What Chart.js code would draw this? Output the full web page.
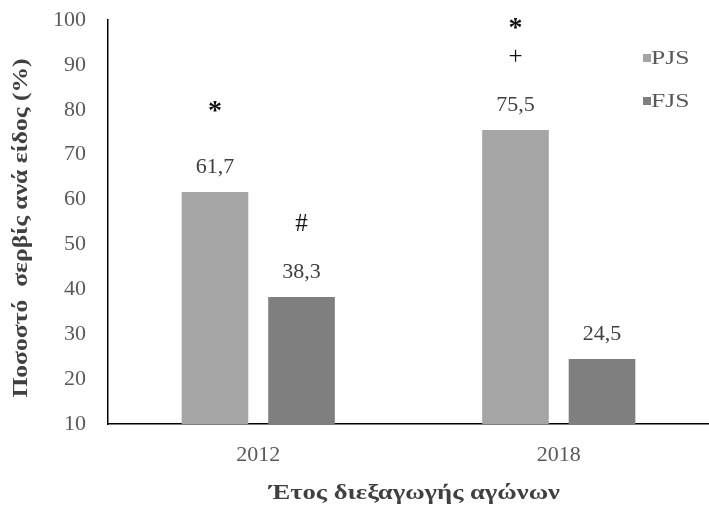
<!DOCTYPE html>
<html>
<head>
<meta charset="utf-8">
<script src="https://cdn.jsdelivr.net/npm/chart.js@4/dist/chart.umd.min.js"></script>
<style>
  html, body { margin: 0; padding: 0; background: #fff; }
  #wrap { width: 709px; height: 516px; }
</style>
</head>
<body>
<div id="wrap"><canvas id="myChart"></canvas></div>
<script>
const years = ['2012', '2018'];
const pjsValues = [61.7, 75.5];
const fjsValues = [38.3, 24.5];
const yTicks = [10, 20, 30, 40, 50, 60, 70, 80, 90, 100];
// significance marks above each bar, bottom-up
const pjsMarks = [['*'], ['+', '*']];
const fjsMarks = [['#'], []];
const xTitle = 'Έτος διεξαγωγής αγώνων';
const yTitle = 'Ποσοστό  σερβίς ανά είδος (%)';

const SERIF = '"Liberation Serif", "Times New Roman", serif';

// draw text stretched horizontally around (x, y)
function wideText(ctx, text, x, y, sx) {
    ctx.save();
    ctx.translate(x, y);
    ctx.scale(sx, 1);
    ctx.fillText(text, 0, 0);
    ctx.restore();
}

// value labels, significance marks, axis titles and the small legend
const annotate = {
    id: 'annotate',
    afterDatasetsDraw(chart) {
        const ctx = chart.ctx;
        const area = chart.chartArea;
        ctx.save();
        ctx.textAlign = 'center';
        ctx.textBaseline = 'middle';
        chart.data.datasets.forEach((ds, di) => {
            const meta = chart.getDatasetMeta(di);
            meta.data.forEach((bar, i) => {
                const v = ds.data[i];
                ctx.font = '22px ' + SERIF;
                ctx.fillStyle = '#404040';
                ctx.fillText(v.toFixed(1).replace('.', ','), bar.x, bar.y - 25);
                ds.marks[i].forEach((m, k) => {
                    const y = bar.y - 74 - k * 21;
                    ctx.fillStyle = '#111';
                    if (m === '*') {
                        ctx.font = 'bold 28px ' + SERIF;
                        ctx.fillText(m, bar.x, y - 14 + 8);
                    } else {
                        ctx.font = '25px ' + SERIF;
                        ctx.fillText(m, bar.x, y + 1);
                    }
                });
            });
        });

        // legend
        ctx.textAlign = 'left';
        chart.data.datasets.forEach((ds, di) => {
            const y = 58 + di * 43;
            ctx.fillStyle = ds.backgroundColor;
            ctx.fillRect(643, y - 4, 8, 8);
            ctx.font = '19px ' + SERIF;
            ctx.fillStyle = '#595959';
            wideText(ctx, ds.label, 651, y + 1, 1.35);
        });

        // axis titles
        ctx.textAlign = 'center';
        ctx.fillStyle = '#404040';
        ctx.font = 'bold 20px ' + SERIF;
        wideText(ctx, xTitle, (area.left + area.right) / 2 + 6, 494, 1.33);
        ctx.save();
        ctx.translate(22, (area.top + area.bottom) / 2 + 6);
        ctx.rotate(-Math.PI / 2);
        wideText(ctx, yTitle, 0, 0, 1.28);
        ctx.restore();
        ctx.restore();
    }
};

const ctx = document.getElementById('myChart').getContext('2d');

const myChart = new Chart(ctx, {
    type: 'bar',
    data: {
        labels: years,
        datasets: [{
            label: 'PJS',
            data: pjsValues,
            marks: pjsMarks,
            backgroundColor: '#a5a5a5'
        }, {
            label: 'FJS',
            data: fjsValues,
            marks: fjsMarks,
            backgroundColor: '#7f7f7f'
        }]
    },
    plugins: [annotate],
    options: {
        responsive: true,
        maintainAspectRatio: false,
        animation: false,
        layout: { padding: { top: 20, right: 0, bottom: 48, left: 0 } },
        datasets: {
            bar: { barPercentage: 0.77, categoryPercentage: 0.576 }
        },
        plugins: {
            legend: { display: false },
            tooltip: { enabled: false }
        },
        scales: {
            x: {
                afterFit(axis) {
                    axis.height = 44;
                    axis.paddingLeft = 0;
                    axis.paddingRight = 0;
                },
                grid: { display: false, drawTicks: false },
                border: { color: '#000', width: 1.5 },
                ticks: {
                    color: '#595959',
                    font: { family: SERIF, size: 22 },
                    padding: 18
                }
            },
            y: {
                min: 10,
                max: 100,
                afterBuildTicks(axis) {
                    axis.ticks = yTicks.map(v => ({ value: v }));
                },
                afterFit(axis) {
                    axis.width = 108;
                    axis.paddingTop = 0;
                    axis.paddingBottom = 0;
                },
                grid: { display: false, drawTicks: false },
                border: { color: '#000', width: 1.5 },
                ticks: {
                    color: '#595959',
                    font: { family: SERIF, size: 22 },
                    padding: 22
                }
            }
        }
    }
});
</script>
</body>
</html>
